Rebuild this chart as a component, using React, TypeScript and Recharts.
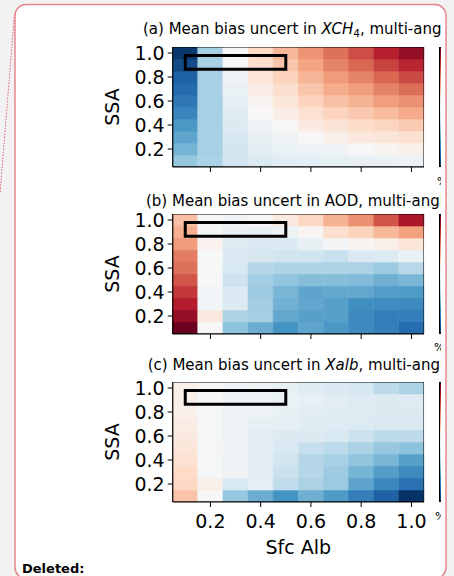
import { ComposedChart, Bar, Cell, XAxis, YAxis, Scatter, Label } from 'recharts'

// grid axes: surface albedo columns, single-scattering albedo rows (top row first)
const ALB = [0.1, 0.2, 0.3, 0.4, 0.5, 0.6, 0.7, 0.8, 0.9, 1.0]
const SSA = [1.0, 0.9, 0.8, 0.7, 0.6, 0.5, 0.4, 0.3, 0.2, 0.1]
const ALB_TICKS = [0.2, 0.4, 0.6, 0.8, 1.0]
const SSA_TICKS = [0.2, 0.4, 0.6, 0.8, 1.0]

// normalised mean bias (-1 .. 1), one row per SSA value, one column per albedo
const XCH4_BIAS = [
  [-0.97, -0.33, 0.0, 0.2, 0.33, 0.45, 0.55, 0.65, 0.78, 0.88],
  [-0.9, -0.33, 0.0, 0.17, 0.28, 0.4, 0.5, 0.58, 0.68, 0.76],
  [-0.82, -0.33, -0.05, 0.13, 0.23, 0.34, 0.43, 0.5, 0.58, 0.66],
  [-0.78, -0.33, -0.07, 0.07, 0.18, 0.28, 0.37, 0.42, 0.5, 0.56],
  [-0.72, -0.33, -0.1, 0.03, 0.12, 0.23, 0.3, 0.35, 0.42, 0.46],
  [-0.66, -0.33, -0.12, 0.0, 0.07, 0.16, 0.23, 0.27, 0.32, 0.38],
  [-0.58, -0.33, -0.14, -0.05, 0.01, 0.09, 0.14, 0.19, 0.22, 0.26],
  [-0.53, -0.33, -0.17, -0.08, -0.04, 0.0, 0.06, 0.11, 0.13, 0.16],
  [-0.47, -0.33, -0.19, -0.11, -0.07, -0.06, -0.04, 0.0, 0.02, 0.05],
  [-0.39, -0.32, -0.2, -0.15, -0.11, -0.1, -0.09, -0.08, -0.07, -0.06],
]

const AOD_BIAS = [
  [0.3, -0.01, -0.03, 0.0, 0.1, 0.21, 0.35, 0.46, 0.63, 0.82],
  [0.36, -0.02, -0.07, -0.08, -0.05, 0.02, 0.17, 0.23, 0.33, 0.41],
  [0.43, 0.04, -0.13, -0.15, -0.15, -0.08, -0.02, 0.02, 0.06, 0.13],
  [0.52, 0.0, -0.15, -0.17, -0.2, -0.2, -0.23, -0.15, -0.14, -0.07],
  [0.55, 0.0, -0.16, -0.29, -0.31, -0.31, -0.31, -0.32, -0.37, -0.28],
  [0.63, 0.0, -0.21, -0.35, -0.4, -0.43, -0.43, -0.44, -0.49, -0.46],
  [0.71, -0.03, -0.15, -0.36, -0.46, -0.53, -0.52, -0.52, -0.56, -0.57],
  [0.79, -0.03, -0.14, -0.35, -0.48, -0.52, -0.55, -0.62, -0.63, -0.64],
  [0.88, 0.1, -0.31, -0.34, -0.52, -0.55, -0.55, -0.64, -0.69, -0.69],
  [0.99, 0.0, -0.41, -0.5, -0.6, -0.53, -0.58, -0.64, -0.69, -0.77],
]

const XALB_BIAS = [
  [0.06, 0.0, -0.03, -0.05, -0.08, -0.12, -0.15, -0.17, -0.26, -0.32],
  [0.06, -0.01, -0.04, -0.05, -0.07, -0.09, -0.11, -0.13, -0.14, -0.13],
  [0.05, -0.01, -0.04, -0.06, -0.08, -0.11, -0.12, -0.13, -0.14, -0.14],
  [0.08, -0.01, -0.04, -0.09, -0.09, -0.12, -0.13, -0.14, -0.16, -0.15],
  [0.1, -0.01, -0.04, -0.11, -0.14, -0.14, -0.16, -0.22, -0.27, -0.26],
  [0.12, -0.01, -0.03, -0.11, -0.16, -0.23, -0.27, -0.32, -0.38, -0.41],
  [0.15, -0.01, -0.04, -0.11, -0.19, -0.29, -0.33, -0.4, -0.46, -0.55],
  [0.2, -0.01, -0.04, -0.11, -0.22, -0.29, -0.36, -0.47, -0.56, -0.64],
  [0.21, 0.06, -0.16, -0.1, -0.25, -0.32, -0.37, -0.53, -0.65, -0.75],
  [0.29, 0.0, -0.39, -0.5, -0.6, -0.49, -0.57, -0.69, -0.82, -0.99],
]

// multi-angle retrieval region
const BOX_ALB = [0.1, 0.5]
const BOX_SSA = [0.865, 0.98]

// RdBu_r
const RDBU_R = ['#053061', '#2166ac', '#4393c3', '#92c5de', '#d1e5f0', '#f7f7f7', '#fddbc7', '#f4a582', '#d6604d', '#b2182b', '#67001f']

const FONT = 'DejaVu Sans, Verdana, sans-serif'

function hexToRgb(h: string) {
  return [1, 3, 5].map((i) => parseInt(h.slice(i, i + 2), 16))
}

function biasColor(v: number) {
  const t = Math.min(1, Math.max(0, (v + 1) / 2)) * (RDBU_R.length - 1)
  const i = Math.min(RDBU_R.length - 2, Math.floor(t))
  const f = t - i
  const a = hexToRgb(RDBU_R[i])
  const b = hexToRgb(RDBU_R[i + 1])
  const c = a.map((x, k) => Math.round(x + (b[k] - x) * f))
  return `rgb(${c[0]},${c[1]},${c[2]})`
}

const step = Math.abs(SSA[0] - SSA[1])
const Y_DOMAIN = [Math.min(...SSA) - step / 2, Math.max(...SSA) + step / 2]
const X_DOMAIN = [Math.min(...ALB) - step / 2, Math.max(...ALB) + step / 2]

// one stacked column per albedo, one segment per SSA row (bottom to top)
const CELL_TABLE = ALB.map((a) => {
  const row: Record<string, string | number> = { alb: a.toFixed(1), base: Y_DOMAIN[0] }
  SSA.forEach((_, i) => {
    row['s' + i] = step
  })
  return row
})

const closedRect = (xs: number[], ys: number[]) => [
  { x: xs[0], y: ys[0] },
  { x: xs[1], y: ys[0] },
  { x: xs[1], y: ys[1] },
  { x: xs[0], y: ys[1] },
  { x: xs[0], y: ys[0] },
]
const BOX_OUTLINE = closedRect(BOX_ALB, BOX_SSA)
const FRAME_OUTLINE = closedRect(X_DOMAIN, Y_DOMAIN)

const PLOT_H = 120
const TOP_PAD = 5

function AlbTick({ x, y, payload, showLabel }: any) {
  const v = Number(payload.value)
  if (!ALB_TICKS.some((t) => Math.abs(t - v) < 1e-6)) return <g />
  return (
    <g>
      <line x1={x} y1={y} x2={x} y2={y + 5} stroke="#000" />
      {showLabel && (
        <text x={x} y={y + 25.7} textAnchor="middle" fontSize={19} fontFamily={FONT} fill="#000">
          {v.toFixed(1)}
        </text>
      )}
    </g>
  )
}

const noDot = () => <g />

function HeatPanel({ grid, plotTop, bottomAxis }: { grid: number[][]; plotTop: number; bottomAxis: boolean }) {
  const rowsAsc = [...grid].reverse()
  const axisH = bottomAxis ? 60 : 10
  return (
    <div style={{ position: 'absolute', left: 0, top: plotTop - TOP_PAD }}>
      <ComposedChart
        width={454}
        height={TOP_PAD + PLOT_H + axisH}
        data={CELL_TABLE}
        margin={{ top: TOP_PAD, right: 30, bottom: 0, left: 100 }}
        barCategoryGap={0}
        barGap={0}
      >
        <XAxis xAxisId="alb" type="number" dataKey="x" domain={X_DOMAIN} allowDataOverflow hide height={0} />
        <XAxis
          xAxisId="cell"
          dataKey="alb"
          height={axisH}
          interval={0}
          tickSize={0}
          tickMargin={0}
          tickLine={false}
          axisLine={{ stroke: '#000' }}
          tick={<AlbTick showLabel={bottomAxis} />}
        >
          {bottomAxis && (
            <Label
              content={({ viewBox }: any) => (
                <text x={viewBox.x + viewBox.width / 2} y={viewBox.y + 51.7} textAnchor="middle" fontSize={19} fontFamily={FONT} fill="#000">
                  Sfc Alb
                </text>
              )}
            />
          )}
        </XAxis>
        <YAxis
          yAxisId="ssa"
          type="number"
          dataKey="y"
          domain={Y_DOMAIN}
          allowDataOverflow
          ticks={SSA_TICKS}
          interval={0}
          width={72.7}
          tickSize={5}
          tickMargin={3}
          axisLine={{ stroke: '#000' }}
          tickLine={{ stroke: '#000' }}
          tick={{ fill: '#000', fontSize: 19, fontFamily: FONT }}
          tickFormatter={(v: number) => v.toFixed(1)}
        >
          <Label
            content={({ viewBox }: any) => {
              const cx = viewBox.x + 12
              const cy = viewBox.y + viewBox.height / 2
              return (
                <text x={cx} y={cy} transform={`rotate(-90, ${cx}, ${cy})`} textAnchor="middle" dominantBaseline="central" fontSize={19} fontFamily={FONT} fill="#000">
                  SSA
                </text>
              )
            }}
          />
        </YAxis>
        <Bar xAxisId="cell" yAxisId="ssa" dataKey="base" stackId="h" fill="none" isAnimationActive={false} />
        {rowsAsc.map((row, i) => (
          <Bar key={i} xAxisId="cell" yAxisId="ssa" dataKey={'s' + i} stackId="h" isAnimationActive={false}>
            {row.map((v, j) => (
              <Cell key={j} fill={biasColor(v)} stroke={biasColor(v)} strokeWidth={0.6} />
            ))}
          </Bar>
        ))}
        <Scatter
          xAxisId="alb"
          yAxisId="ssa"
          data={FRAME_OUTLINE}
          line={{ stroke: '#000', strokeWidth: 1 }}
          lineJointType="linear"
          shape={noDot}
          isAnimationActive={false}
        />
        <Scatter
          xAxisId="alb"
          yAxisId="ssa"
          data={BOX_OUTLINE}
          line={{ stroke: '#000', strokeWidth: 3, strokeLinecap: 'square' }}
          lineJointType="linear"
          shape={noDot}
          isAnimationActive={false}
        />
      </ComposedChart>
    </div>
  )
}

function ColorBar({ top }: { top: number }) {
  return (
    <div
      style={{
        position: 'absolute',
        left: 439,
        top,
        width: 20,
        height: PLOT_H,
        boxSizing: 'border-box',
        border: '1px solid #000',
        background: `linear-gradient(to top, ${RDBU_R.join(', ')})`,
      }}
    />
  )
}

const PANEL_TOPS = [46.7, 214, 382.3]

export default function App() {
  return (
    <div style={{ position: 'absolute', left: 0, top: 0, width: 454, height: 576, background: '#f2f2f2', overflow: 'hidden' }}>
      <svg width={454} height={576} style={{ position: 'absolute', left: 0, top: 0 }}>
        <line x1={14.5} y1={14} x2={0} y2={194} stroke="#e0606b" strokeWidth={1} strokeDasharray="1.5 1.5" />
        <rect x={15} y={4.5} width={431} height={574} rx={11} fill="#fff" stroke="#e5868d" strokeWidth={1.5} />
        <text x={22} y={572.5} fontSize={13} fontWeight="bold" fontFamily={FONT} fill="#000">
          Deleted:
        </text>
      </svg>
      <div style={{ position: 'absolute', left: 0, top: 0, width: 441, height: 576, overflow: 'hidden' }}>
        <HeatPanel grid={XCH4_BIAS} plotTop={PANEL_TOPS[0]} bottomAxis={false} />
        <HeatPanel grid={AOD_BIAS} plotTop={PANEL_TOPS[1]} bottomAxis={false} />
        <HeatPanel grid={XALB_BIAS} plotTop={PANEL_TOPS[2]} bottomAxis={true} />
        {PANEL_TOPS.map((t) => (
          <ColorBar key={t} top={t} />
        ))}
        <svg width={441} height={576} style={{ position: 'absolute', left: 0, top: 0, pointerEvents: 'none' }}>
          <g fontFamily={FONT} fontSize={15} fill="#000">
            <text x={143} y={34}>
              (a) Mean bias uncert in <tspan fontStyle="italic">XCH</tspan>
              <tspan dy={3} fontSize={10.5}>4</tspan>
              <tspan dy={-3}>, multi-angle</tspan>
            </text>
            <text x={146} y={206}>(b) Mean bias uncert in AOD, multi-angle</text>
            <text x={147.7} y={369.5}>
              (c) Mean bias uncert in <tspan fontStyle="italic">Xalb</tspan>, multi-angle
            </text>
          </g>
          <g fontFamily={FONT} fontSize={11} fill="#000">
            <text x={437} y={185}>%</text>
            <text x={434} y={351}>%</text>
            <text x={435} y={520}>%</text>
          </g>
        </svg>
      </div>
    </div>
  )
}
